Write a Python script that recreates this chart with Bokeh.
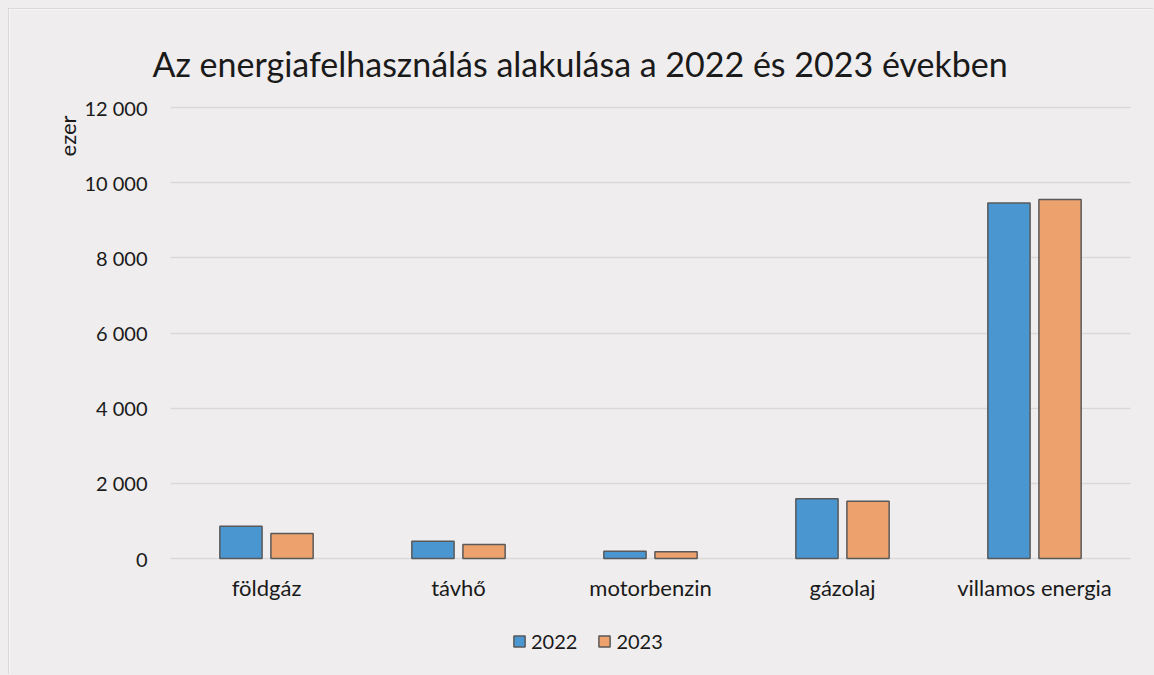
from math import pi
from bokeh.plotting import figure
from bokeh.models import (ColumnDataSource, Range1d, FixedTicker, Legend, LegendItem, Label)
from bokeh.transform import dodge
from bokeh.embed import file_html
from bokeh.resources import INLINE

categories = ["földgáz", "távhő", "motorbenzin", "gázolaj", "villamos energia"]
series_names = ["2022", "2023"]
values_2022 = [855, 460, 195, 1590, 9460]
values_2023 = [665, 370, 180, 1525, 9555]
y_ticks = [0, 2000, 4000, 6000, 8000, 10000, 12000]
y_tick_labels = ["0", "2 000", "4 000", "6 000", "8 000", "10 000", "12 000"]
title_text = "Az energiafelhasználás alakulása a 2022 és 2023 években"
y_label = "ezer"

FONT = "Lato"
BG = "#EFEDEE"
TXT = "#1a1a1a"

# ---- layout constants (figure pixels) ----
FIG_W, FIG_H = 1145, 666
CAT0_PX, CAT_STEP = 257, 192          # centre of first category, category pitch
ZERO_PX, TOP_PX = 549, 98             # pixel rows of y=0 and of the top tick
x_lo = -CAT0_PX / CAT_STEP
x_hi = (FIG_W - CAT0_PX) / CAT_STEP
ppu = (ZERO_PX - TOP_PX) / y_ticks[-1]
y_lo = -(FIG_H - ZERO_PX) / ppu
y_hi = ZERO_PX / ppu

x_idx = list(range(len(categories)))
source = ColumnDataSource(data=dict(x=x_idx, cat=categories, v2022=values_2022, v2023=values_2023))

p = figure(width=FIG_W, height=FIG_H, x_range=Range1d(x_lo, x_hi), y_range=Range1d(y_lo, y_hi),
           output_backend="svg", toolbar_location=None, min_border=0)
p.background_fill_color = BG
p.border_fill_color = BG
p.outline_line_color = None
p.styles = {"margin-left": "8px", "margin-top": "8px",
            "border-left": "1px solid #D9D9D9", "border-top": "1px solid #D9D9D9",
            "box-shadow": "0 0 0 9px #EFEDEE"}

# horizontal grid lines limited to the category span
try:
    p.ygrid[0].cross_bounds = (-0.5, len(categories) - 0.5)
    p.ygrid.grid_line_color = "#D9D9D9"
    p.ygrid.grid_line_width = 1.5
except AttributeError:
    p.ygrid.grid_line_color = None
    p.segment(x0=[-0.5] * len(y_ticks), x1=[len(categories) - 0.5] * len(y_ticks),
              y0=y_ticks, y1=y_ticks, line_color="#D9D9D9", line_width=1.5, level="underlay")
p.xgrid.grid_line_color = None

r1 = p.vbar(x=dodge("x", -0.133), top="v2022", width=0.22, source=source,
            fill_color="#4A96D1", line_color="#595959", line_width=1.5)
r2 = p.vbar(x=dodge("x", 0.133), top="v2023", width=0.22, source=source,
            fill_color="#EDA26E", line_color="#595959", line_width=1.5)

p.xaxis.ticker = FixedTicker(ticks=x_idx)
p.xaxis.major_label_overrides = {i: c for i, c in zip(x_idx, categories)}
p.yaxis.ticker = FixedTicker(ticks=y_ticks)
p.yaxis.major_label_overrides = {t: l for t, l in zip(y_ticks, y_tick_labels)}
for ax in (p.xaxis, p.yaxis):
    ax.axis_line_color = None
    ax.major_tick_line_color = None
    ax.minor_tick_line_color = None
    ax.major_label_text_font = FONT
    ax.major_label_text_color = TXT
p.yaxis.major_label_text_font_size = "20px"
p.xaxis.major_label_text_font_size = "22px"
p.yaxis.major_label_standoff = 17
p.xaxis.major_label_standoff = 9
p.xaxis.fixed_location = 0
p.yaxis.fixed_location = -0.5

title = Label(x=143, y=FIG_H - 54, x_units="screen", y_units="screen", text=title_text,
              text_align="left", text_baseline="alphabetic", text_font=FONT,
              text_font_size="34px", text_color=TXT)
p.add_layout(title)

ylab = Label(x=58, y=FIG_H - 106, x_units="screen", y_units="screen", text=y_label, angle=pi / 2,
             text_align="right", text_baseline="alphabetic", text_font=FONT,
             text_font_size="22px", text_color=TXT)
p.add_layout(ylab)

legend = Legend(items=[LegendItem(label=series_names[0], renderers=[r1]),
                       LegendItem(label=series_names[1], renderers=[r2])],
                orientation="horizontal", location=(503, 22))
legend.background_fill_alpha = 0
legend.border_line_color = None
legend.label_text_font = FONT
legend.label_text_font_size = "20px"
legend.label_text_color = TXT
legend.glyph_width = 14
legend.glyph_height = 14
legend.spacing = 20
legend.label_standoff = 5
legend.padding = 0
legend.margin = 0
p.add_layout(legend, "center")

open("out.html", "w").write(file_html(p, INLINE))
